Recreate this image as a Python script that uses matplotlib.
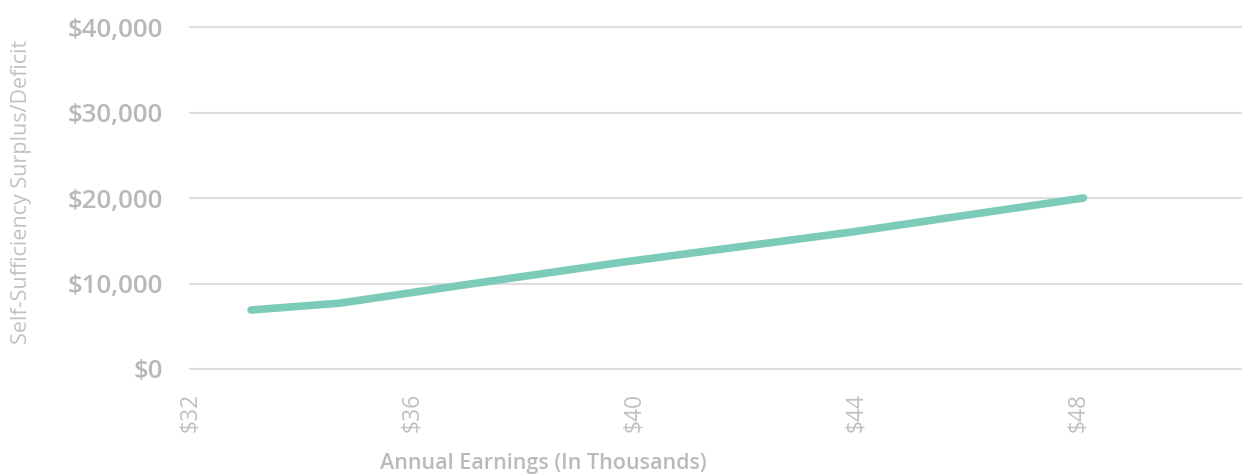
import matplotlib.pyplot as plt
from matplotlib.ticker import FuncFormatter

# Earnings (thousands) vs surplus/deficit
earnings = [33.1, 34.7, 36.9, 39.8, 43.9, 48.1]
surplus = [6900, 7700, 9800, 12500, 16000, 20000]

x_ticks = [32, 36, 40, 44, 48]
y_ticks = [0, 10000, 20000, 30000, 40000]

plt.rcParams['font.family'] = ['Open Sans', 'DejaVu Sans']

fig = plt.figure(figsize=(12.42, 4.74), dpi=100)
ax = fig.add_axes([190 / 1242, 1 - 369 / 474, 1 - 190 / 1242, (369 - 27) / 474])

ax.plot(earnings, surplus, color='#7ccbb8', linewidth=5.5,
        solid_capstyle='round', solid_joinstyle='round', zorder=3)

ax.set_xlim(32, 32 + (1242 - 190) / 55.5)
ax.set_ylim(0, 40000)
ax.set_xticks(x_ticks)
ax.set_yticks(y_ticks)
ax.xaxis.set_major_formatter(FuncFormatter(lambda v, p: f"${v:.0f}"))
ax.yaxis.set_major_formatter(FuncFormatter(lambda v, p: f"${v:,.0f}"))

ax.grid(axis='y', color='#dedede', linewidth=1.5)
for line in ax.get_ygridlines():
    line.set_clip_on(False)
ax.grid(axis='x', visible=False)
for s in ax.spines.values():
    s.set_visible(False)

ax.tick_params(axis='y', length=0, pad=19.5, labelsize=18.5, labelcolor='#b8b8b8')
ax.tick_params(axis='x', length=0, pad=17, labelsize=16.5, labelcolor='#c0c0c0',
               labelrotation=90)
for t in ax.get_yticklabels():
    t.set_fontweight('semibold')

fig.text(22 / 1242, 1 - 192 / 474, "Self-Sufficiency Surplus/Deficit",
         rotation=90, ha='center', va='center', fontsize=15.5, color='#c2c2c2')
fig.text(543 / 1242, 1 - 463 / 474, "Annual Earnings (In Thousands)",
         ha='center', va='center', fontsize=15.5, color='#bababa', fontweight='semibold')

fig.savefig("out.png", dpi=100)
